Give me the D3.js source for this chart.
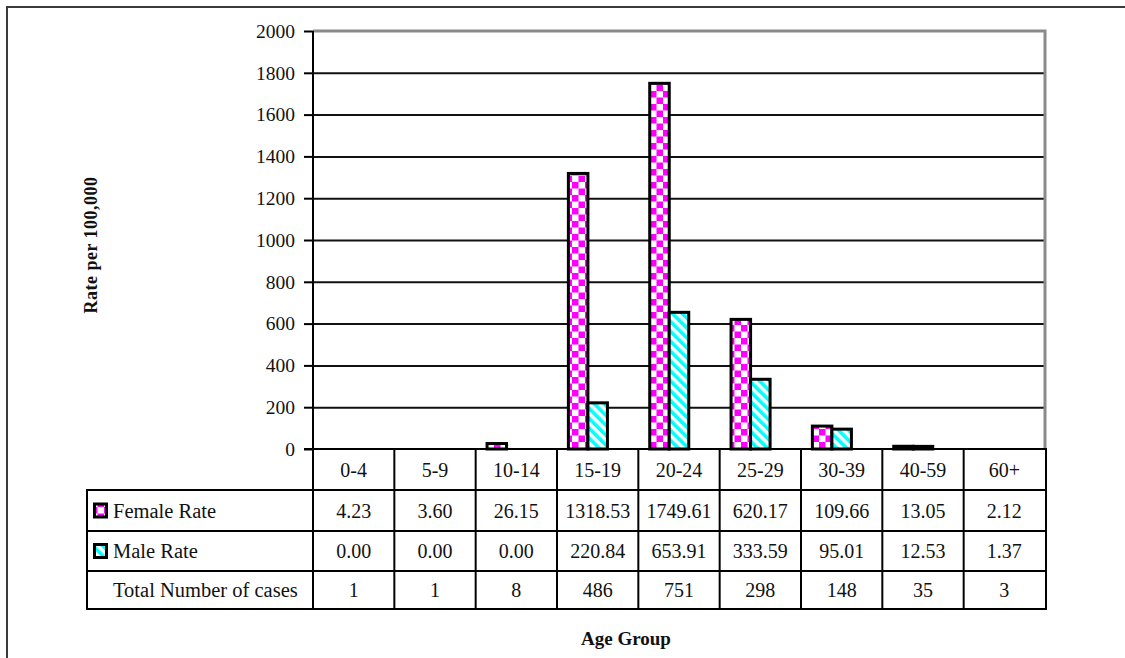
<!DOCTYPE html>
<html>
<head>
<meta charset="utf-8">
<script src="https://cdn.jsdelivr.net/npm/d3@7/dist/d3.min.js"></script>
<style>
  html, body { margin: 0; padding: 0; background: #fff; }
  svg { display: block; }
  svg text { font-family: "Liberation Serif", "Times New Roman", serif !important; fill: #111; }
</style>
</head>
<body>
<svg id="chart" width="1125" height="658"></svg>
<script>
// Age groups and rates per 100,000
const categories = ["0-4", "5-9", "10-14", "15-19", "20-24", "25-29", "30-39", "40-59", "60+"];
const femaleRate = [4.23, 3.60, 26.15, 1318.53, 1749.61, 620.17, 109.66, 13.05, 2.12];
const maleRate = [0.00, 0.00, 0.00, 220.84, 653.91, 333.59, 95.01, 12.53, 1.37];
const totalCases = [1, 1, 8, 486, 751, 298, 148, 35, 3];
const rowLabels = ["Female Rate", "Male Rate", "Total Number of cases"];
const yTicks = [0, 200, 400, 600, 800, 1000, 1200, 1400, 1600, 1800, 2000];

const svg = d3.select("#chart");

// layout
const plot = { left: 313, right: 1045, top: 31, bottom: 449 };
const tableRows = [449, 490, 531, 571, 609];
const legendLeft = 87;

const x = d3.scaleBand().domain(categories).range([plot.left, plot.right]).padding(0);
const y = d3.scaleLinear().domain([0, 2000]).range([plot.bottom, plot.top]);
const bw = x.bandwidth();

// fill patterns
const defs = svg.append("defs");
const checker = defs.append("pattern")
  .attr("id", "checker").attr("patternUnits", "userSpaceOnUse")
  .attr("width", 13).attr("height", 13);
checker.append("rect").attr("width", 13).attr("height", 13).attr("fill", "#fff");
checker.append("rect").attr("width", 6.5).attr("height", 6.5).attr("fill", "#ff00ff");
checker.append("rect").attr("x", 6.5).attr("y", 6.5).attr("width", 6.5).attr("height", 6.5).attr("fill", "#ff00ff");

const stripes = defs.append("pattern")
  .attr("id", "stripes").attr("patternUnits", "userSpaceOnUse")
  .attr("width", 7).attr("height", 7).attr("patternTransform", "rotate(-45)");
stripes.append("rect").attr("width", 7).attr("height", 7).attr("fill", "#fff");
stripes.append("rect").attr("width", 3.6).attr("height", 7).attr("fill", "#00ffff");

// outer frame
svg.append("rect").attr("x", 7).attr("y", 7).attr("width", 1140).attr("height", 700)
  .attr("fill", "#fff").attr("stroke", "#3a3a3a").attr("stroke-width", 2);

// gridlines
svg.append("g").attr("transform", `translate(${plot.left},0)`)
  .call(d3.axisLeft(y).tickValues(yTicks.filter(t => t > 0 && t < 2000))
    .tickSize(-(plot.right - plot.left)).tickFormat(""))
  .call(g => g.select(".domain").remove())
  .call(g => g.selectAll("line").attr("stroke", "#111").attr("stroke-width", 2));

// plot border (top and right)
svg.append("path")
  .attr("d", `M${plot.left},${plot.top}H${plot.right}V${plot.bottom}`)
  .attr("fill", "none").attr("stroke", "#8a8a8a").attr("stroke-width", 3);

// bars
const groupOffset = 0.14 * bw;
const barW = 0.24 * bw;
function drawBars(values, idx, fill) {
  svg.append("g").selectAll("rect").data(values).join("rect")
    .attr("x", (d, i) => x(categories[i]) + groupOffset + idx * barW)
    .attr("y", d => y(d))
    .attr("width", barW)
    .attr("height", d => y(0) - y(d))
    .attr("fill", fill)
    .attr("stroke", d => (y(0) - y(d)) >= 2 ? "#000" : "none")
    .attr("stroke-width", 3);
}
drawBars(femaleRate, 0, "url(#checker)");
drawBars(maleRate, 1, "url(#stripes)");

// y axis
svg.append("g").attr("transform", `translate(${plot.left},0)`)
  .call(d3.axisLeft(y).tickValues(yTicks).tickFormat(d3.format("d")).tickSize(9).tickPadding(9))
  .call(g => g.select(".domain").attr("stroke", "#000").attr("stroke-width", 2)
    .attr("d", `M0,${plot.top}V${plot.bottom}`))
  .call(g => g.selectAll(".tick line").attr("stroke", "#000").attr("stroke-width", 2))
  .call(g => g.selectAll(".tick text")
    .style("font-size", "19.5px").attr("fill", "#111"));

// data table
const tbl = svg.append("g").attr("stroke", "#000").attr("stroke-width", 2).attr("fill", "none");
// header row with category names
tbl.append("rect").attr("x", plot.left).attr("y", tableRows[0])
  .attr("width", plot.right + 1 - plot.left).attr("height", tableRows[1] - tableRows[0]);
// body rows incl. legend column
tbl.append("rect").attr("x", legendLeft).attr("y", tableRows[1])
  .attr("width", plot.right + 1 - legendLeft).attr("height", tableRows[4] - tableRows[1]);
tableRows.slice(2, 4).forEach(r => {
  tbl.append("line").attr("x1", legendLeft).attr("x2", plot.right + 1).attr("y1", r).attr("y2", r);
});
categories.forEach((c, i) => {
  tbl.append("line").attr("x1", x(c)).attr("x2", x(c)).attr("y1", tableRows[0]).attr("y2", tableRows[4]);
});
// axis baseline tick extension
tbl.append("line").attr("x1", plot.left - 9).attr("x2", plot.left).attr("y1", plot.bottom).attr("y2", plot.bottom);

const cellText = svg.append("g").attr("text-anchor", "middle").style("font-size", "20px");
const rowsData = [
  categories,
  femaleRate.map(v => v.toFixed(2)),
  maleRate.map(v => v.toFixed(2)),
  totalCases.map(String)
];
rowsData.forEach((row, r) => {
  const cy = (tableRows[r] + tableRows[r + 1]) / 2;
  cellText.selectAll(null).data(row).join("text")
    .attr("x", (d, i) => x(categories[i]) + bw / 2)
    .attr("y", cy + 7)
    .text(d => d);
});

// legend column
const legendFills = ["url(#checker)", "url(#stripes)", null];
rowLabels.forEach((lab, r) => {
  const cy = (tableRows[r + 1] + tableRows[r + 2]) / 2;
  if (legendFills[r]) {
    svg.append("rect").attr("x", 94.5).attr("y", cy - 6.5).attr("width", 12).attr("height", 13)
      .attr("fill", legendFills[r]).attr("stroke", "#000").attr("stroke-width", 3);
  }
  svg.append("text").attr("x", 113).attr("y", cy + 7)
    .style("font-size", "20.5px").text(lab);
});

// axis titles
svg.append("text").attr("x", 626).attr("y", 645).attr("text-anchor", "middle")
  .style("font-size", "19px").style("font-weight", "bold").text("Age Group");
svg.append("text").attr("transform", "translate(97,245) rotate(-90)").attr("text-anchor", "middle")
  .style("font-size", "18px").style("font-weight", "bold").style("letter-spacing", "0.5px")
  .text("Rate per 100,000");
</script>
</body>
</html>
